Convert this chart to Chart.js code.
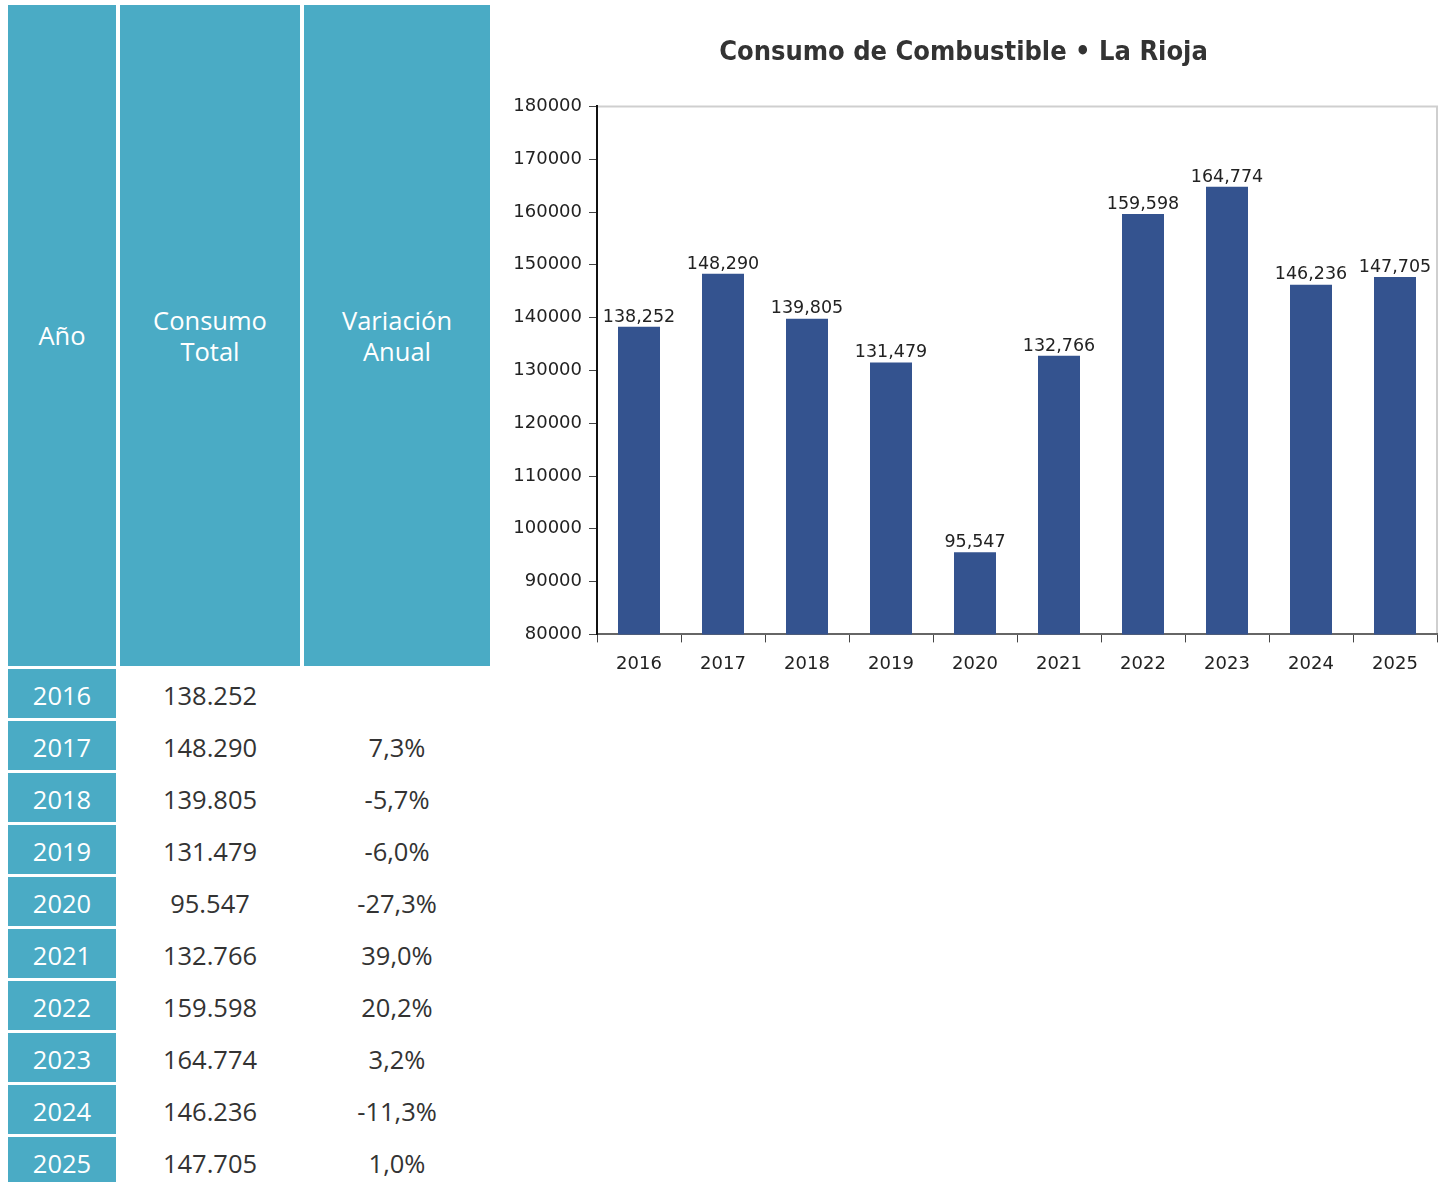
<!DOCTYPE html>
<html>
<head>
<meta charset="utf-8">
<script src="https://cdn.jsdelivr.net/npm/chart.js@4.4.1/dist/chart.umd.min.js"></script>
<style>
  body { margin: 0; background: #fff; width: 1452px; height: 1182px; overflow: hidden; position: relative; }
  #tabla { position: absolute; left: 4px; top: 2px; border-collapse: separate; border-spacing: 4px 3px;
    font-family: "Open Sans", "Noto Sans", sans-serif; font-size: 25.5px; color: #333; }
  #tabla td, #tabla th { text-align: center; padding: 0; }
  #tabla th { background: #4aabc5; color: #fff; font-weight: normal; height: 661px; line-height: 31px; }
  #tabla td { height: 49px; padding-top: 3px; box-sizing: border-box; }
  #tabla td.anio { background: #4aabc5; color: #fff; }
  #wrap { position: absolute; left: 490px; top: 0; width: 962px; height: 690px; }
</style>
</head>
<body>
<table id="tabla">
  <thead>
    <tr>
      <th style="width:108px">Año</th>
      <th style="width:180px">Consumo<br>Total</th>
      <th style="width:186px">Variación<br>Anual</th>
    </tr>
  </thead>
  <tbody id="cuerpo"></tbody>
</table>
<div id="wrap"><canvas id="canvas"></canvas></div>
<script>
const years = ['2016', '2017', '2018', '2019', '2020', '2021', '2022', '2023', '2024', '2025'];
const consumo = [138252, 148290, 139805, 131479, 95547, 132766, 159598, 164774, 146236, 147705];
const variacion = ['', '7,3%', '-5,7%', '-6,0%', '-27,3%', '39,0%', '20,2%', '3,2%', '-11,3%', '1,0%'];

const cuerpo = document.getElementById('cuerpo');
years.forEach((y, i) => {
  const tr = document.createElement('tr');
  tr.innerHTML = `
    <td class="anio">${y}</td>
    <td>${consumo[i].toLocaleString('de-DE')}</td>
    <td>${variacion[i]}</td>`;
  cuerpo.appendChild(tr);
});

const chartFont = '"DejaVu Sans", sans-serif';

// light frame on top and right of the plot
const framePlugin = {
  id: 'frame',
  beforeDraw(chart) {
    const { ctx, chartArea: a } = chart;
    ctx.save();
    ctx.strokeStyle = '#cfcfcf';
    ctx.lineWidth = 2;
    ctx.beginPath();
    ctx.moveTo(a.left, a.top);
    ctx.lineTo(a.right, a.top);
    ctx.lineTo(a.right, a.bottom);
    ctx.stroke();
    ctx.restore();
  }
};

// values above the bars
const valuePlugin = {
  id: 'values',
  afterDatasetsDraw(chart) {
    const { ctx } = chart;
    const meta = chart.getDatasetMeta(0);
    ctx.save();
    ctx.font = '17.5px ' + chartFont;
    ctx.fillStyle = '#222';
    ctx.textAlign = 'center';
    ctx.textBaseline = 'bottom';
    meta.data.forEach((bar, i) => {
      ctx.fillText(consumo[i].toLocaleString('en-US'), bar.x, bar.y - 1);
    });
    ctx.restore();
  }
};

const canvas = document.getElementById('canvas');
new Chart(canvas, {
  type: 'bar',
  data: {
    labels: years,
    datasets: [{
      data: consumo,
      backgroundColor: '#34538f',
      barPercentage: 0.5,
      categoryPercentage: 1,
    }]
  },
  options: {
    responsive: true,
    maintainAspectRatio: false,
    animation: false,
    layout: { padding: { left: 0, right: 15, bottom: 4 } },
    plugins: {
      legend: { display: false },
      tooltip: { enabled: false },
      title: {
        display: true,
        text: 'Consumo de Combustible • La Rioja',
        color: '#333',
        font: { family: '"DejaVu Sans Condensed", "DejaVu Sans", sans-serif', size: 27, weight: 'bold' },
        padding: { top: 37, bottom: 37 }
      }
    },
    scales: {
      x: {
        grid: { drawOnChartArea: false, tickLength: 8, color: '#444', offset: true },
        border: { color: '#666', width: 2 },
        ticks: { color: '#222', font: { family: chartFont, size: 18 }, padding: 11 }
      },
      y: {
        min: 80000,
        max: 180000,
        afterFit(scale) { scale.width = 107; },
        grid: { drawOnChartArea: false, tickLength: 8, color: '#444' },
        border: { color: '#111', width: 2 },
        ticks: {
          stepSize: 10000,
          color: '#222',
          font: { family: chartFont, size: 18 },
          padding: 7,
          callback: v => String(v)
        }
      }
    }
  },
  plugins: [framePlugin, valuePlugin]
});
</script>
</body>
</html>
